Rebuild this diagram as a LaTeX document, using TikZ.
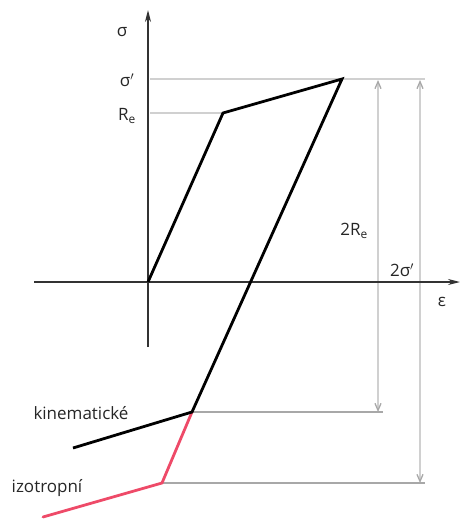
\documentclass[tikz,border=0pt]{standalone}
\usepackage{fontspec}
\setmainfont{Open Sans}
\usetikzlibrary{arrows.meta}
\definecolor{axisc}{HTML}{333333}
\definecolor{lightg}{HTML}{D0D0D0}
\definecolor{midg}{HTML}{A8A8A8}
\definecolor{redc}{HTML}{EE4A68}
\tikzset{
  axisline/.style={draw=axisc,line width=1.6pt},
  curve/.style={draw=black,line width=2.8pt,line join=miter},
  redcurve/.style={draw=redc,line width=2.8pt},
  guide/.style={draw=lightg,line width=1.5pt},
  guidedark/.style={draw=midg,line width=1.3pt},
  dimline/.style={draw=lightg,line width=1.5pt,{Straight Barb[length=7pt,width=6pt,line width=1.3pt,color=midg]}-{Straight Barb[length=7pt,width=6pt,line width=1.3pt,color=midg]}},
  lbl/.style={font=\fontsize{17}{19}\selectfont,text=black!85,inner sep=0pt}
}
\begin{document}
\begin{tikzpicture}[x=1pt,y=-1pt]
\useasboundingbox (0,0) rectangle (461,522);
% key points
\coordinate (O) at (148,282);
\coordinate (yb) at (148,347);
\coordinate (yt) at (148,10);
\coordinate (xl) at (34,282);
\coordinate (xr) at (460,282);
\coordinate (Re) at (223,113);
\coordinate (Sp) at (342,79);
\coordinate (K) at (192,412);
\coordinate (Kend) at (73,448);
\coordinate (I) at (162,483);
\coordinate (Iend) at (43,517);
\coordinate (ReL) at (150,113);
\coordinate (SpL) at (150,79);
\coordinate (SpR) at (425,79);
\coordinate (D1t) at (378,80);
\coordinate (D1b) at (378,412);
\coordinate (D2t) at (420,80);
\coordinate (D2b) at (420,483);
\coordinate (KR) at (383,412);
\coordinate (IR) at (425,483);
% guides
\path[guide] (SpL) -- (SpR);
\path[guide] (ReL) -- (Re);
\path[guidedark] (K) -- (KR);
\path[guidedark] (I) -- (IR);
\path[dimline] (D1t) -- (D1b);
\path[dimline] (D2t) -- (D2b);
% axes
\path[axisline,-{Stealth[length=12pt,width=6pt]}] (yb) -- (yt);
\path[axisline,-{Stealth[length=12pt,width=6pt]}] (xl) -- (xr);
% curves
\path[redcurve,line cap=round] (K) -- (I) -- (Iend);
\path[curve] (O) -- (Re) -- (Sp) -- (K) -- (Kend);
% labels
\node[lbl] (ls) at (122,32) {σ};
\node[lbl] (lsp) at (127,80) {σ$'$};
\node[lbl] (lre) at (127,116) {R\textsubscript{e}};
\node[lbl] (l2re) at (354,231) {2R\textsubscript{e}};
\node[lbl] (l2sp) at (402,270) {2σ$'$};
\node[lbl] (leps) at (442,302) {ε};
\node[lbl] (lkin) at (81,413) {kinematické};
\node[lbl] (liz) at (47,488) {izotropní};
\end{tikzpicture}
\end{document}
